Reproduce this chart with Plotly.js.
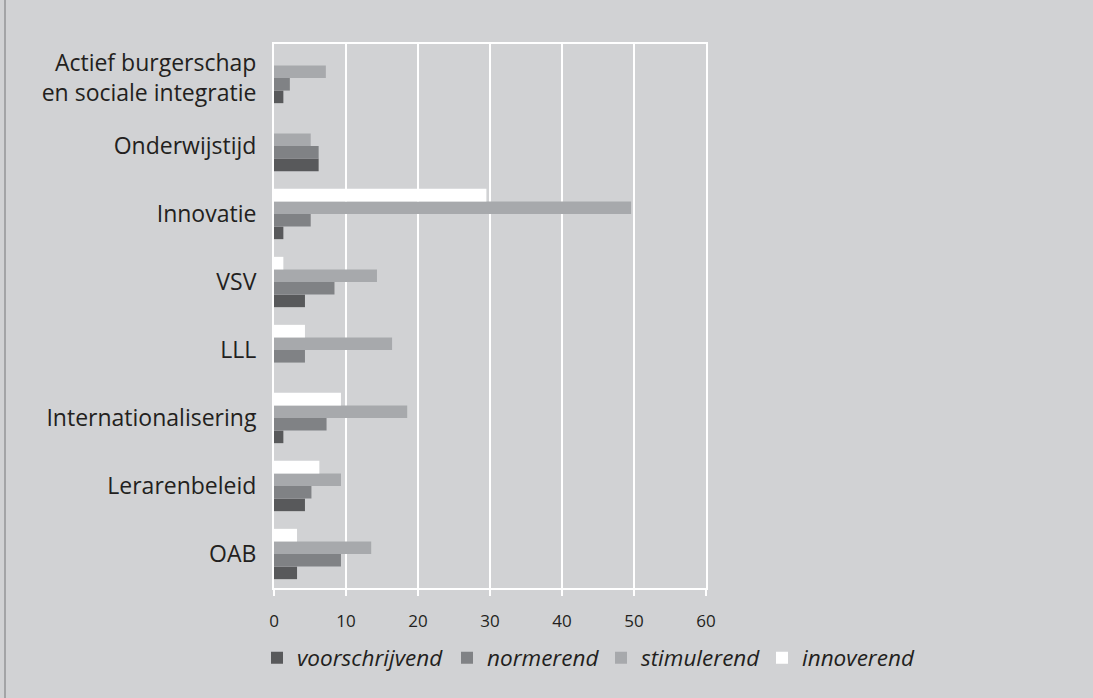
<!DOCTYPE html>
<html>
<head>
<meta charset="utf-8">
<script src="https://cdn.plot.ly/plotly-3.0.1.min.js"></script>
<style>
html,body{margin:0;padding:0;background:#d1d2d4;}
#chart{width:1093px;height:698px;}
</style>
</head>
<body>
<div id="chart"></div>
<script>
// categories, top to bottom as in the chart
var categories = [
  "Actief burgerschap<br>en sociale integratie",
  "Onderwijstijd",
  "Innovatie",
  "VSV",
  "LLL",
  "Internationalisering",
  "Lerarenbeleid",
  "OAB"
];
var seriesNames = ["voorschrijvend", "normerend", "stimulerend", "innoverend"];
var voorschrijvend = [1.3, 6.2, 1.3, 4.3, 0, 1.3, 4.3, 3.2];
var normerend      = [2.2, 6.2, 5.1, 8.4, 4.3, 7.3, 5.2, 9.3];
var stimulerend    = [7.2, 5.1, 49.6, 14.3, 16.4, 18.5, 9.3, 13.5];
var innoverend     = [0, 0, 29.5, 1.3, 4.3, 9.3, 6.3, 3.2];
var xTicks = [0, 10, 20, 30, 40, 50, 60];

var colors = ["#58595b", "#808285", "#a7a9ac", "#ffffff"];
var values = [voorschrijvend, normerend, stimulerend, innoverend];
var legendIds = ["legend", "legend2", "legend3", "legend4"];
var legendLeft = [257, 447, 601, 762];

var traces = seriesNames.map(function (name, i) {
  return {
    type: "bar",
    orientation: "h",
    name: name,
    y: categories,
    x: values[i],
    legend: legendIds[i],
    marker: {color: colors[i], line: {width: 0}},
    hoverinfo: "x+name"
  };
});

var font = "'Open Sans', 'DejaVu Sans', sans-serif";

var layout = {
  width: 1093,
  height: 698,
  paper_bgcolor: "#d1d2d4",
  plot_bgcolor: "#d1d2d4",
  margin: {l: 274, r: 387, t: 44, b: 110, pad: 0},
  barmode: "group",
  bargap: 0.26,
  bargroupgap: 0,
  showlegend: true,
  font: {family: font, color: "#231f20"},
  xaxis: {
    range: [0, 60],
    tickvals: xTicks,
    ticktext: xTicks.map(String),
    showgrid: true,
    gridcolor: "#ffffff",
    gridwidth: 1.5,
    zeroline: false,
    showline: true,
    linecolor: "#ffffff",
    linewidth: 2,
    mirror: true,
    ticks: "outside",
    ticklen: 6,
    tickwidth: 1.5,
    tickcolor: "#ffffff",
    ticklabelstandoff: 11,
    tickfont: {family: font, size: 17, color: "#231f20"},
    fixedrange: true
  },
  yaxis: {
    type: "category",
    categoryorder: "array",
    categoryarray: categories.slice().reverse(),
    showgrid: false,
    zeroline: false,
    showline: true,
    linecolor: "#ffffff",
    linewidth: 2,
    mirror: true,
    ticks: "",
    ticklabelstandoff: 11,
    tickfont: {family: font, size: 23, color: "#231f20"},
    fixedrange: true
  },
  shapes: [{
    type: "line", xref: "paper", yref: "paper",
    x0: -269 / 432, x1: -269 / 432, y0: -110 / 544, y1: 1 + 44 / 544,
    line: {color: "#a3a4a6", width: 2}
  }]
};

legendIds.forEach(function (id, i) {
  layout[id] = {
    orientation: "h",
    xref: "container",
    yref: "container",
    x: legendLeft[i] / 1093,
    y: 40 / 698,
    xanchor: "left",
    yanchor: "middle",
    bgcolor: "rgba(0,0,0,0)",
    font: {family: font, size: 22.5, color: "#231f20", style: "italic"}
  };
});

Plotly.newPlot("chart", traces, layout, {displayModeBar: false, staticPlot: true});
</script>
</body>
</html>
